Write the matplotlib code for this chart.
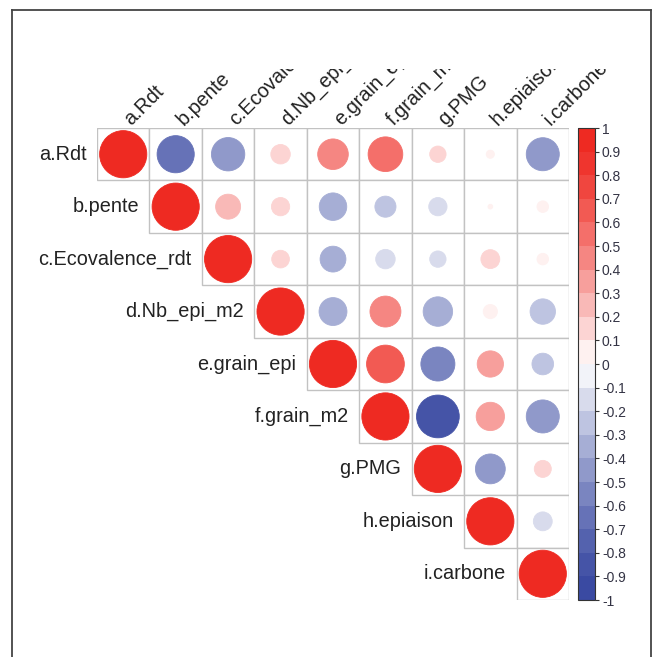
import numpy as np
import matplotlib
matplotlib.use("Agg")
import matplotlib.pyplot as plt
from matplotlib.colors import ListedColormap, BoundaryNorm, to_rgb
from matplotlib.cm import ScalarMappable
from matplotlib.patches import Circle, Rectangle
from matplotlib.lines import Line2D
from matplotlib.transforms import Bbox, TransformedBbox

plt.rcParams['font.family'] = ['Liberation Sans', 'DejaVu Sans']

labels = ["a.Rdt", "b.pente", "c.Ecovalence_rdt", "d.Nb_epi_m2", "e.grain_epi",
          "f.grain_m2", "g.PMG", "h.epiaison", "i.carbone"]

# correlations of the upper triangle, each row starts at the diagonal
row_a = [1, -0.62, -0.50, 0.17, 0.42, 0.54, 0.12, 0.03, -0.49]
row_b = [1, 0.28, 0.15, -0.34, -0.20, -0.15, 0.01, 0.06]
row_c = [1, 0.14, -0.30, -0.17, -0.12, 0.16, 0.06]
row_d = [1, -0.35, 0.43, -0.39, 0.09, -0.29]
row_e = [1, 0.64, -0.52, 0.31, -0.21]
row_f = [1, -0.82, 0.36, -0.49]
row_g = [1, -0.40, 0.13]
row_h = [1, -0.16]
row_i = [1]
rows = [row_a, row_b, row_c, row_d, row_e, row_f, row_g, row_h, row_i]

cbar_ticks = [1, 0.9, 0.8, 0.7, 0.6, 0.5, 0.4, 0.3, 0.2, 0.1, 0,
              -0.1, -0.2, -0.3, -0.4, -0.5, -0.6, -0.7, -0.8, -0.9, -1]

W, H = 655, 657
fig = plt.figure(figsize=(W / 100, H / 100), dpi=100)

# 20 colour bins, blue - white - red, a bit darker away from zero
blue = np.array(to_rgb("#3A4AA2"))
red = np.array(to_rgb("#EE2A22"))
white = np.ones(3)
cols = []
for k in range(20):
    t = k / 19 * 2 - 1          # -1 .. 1
    s = (1 - abs(t)) ** 1.3     # share of white
    end = red if t > 0 else blue
    cols.append(tuple(end + (white - end) * s))
cmap = ListedColormap(cols)
bounds = np.linspace(-1, 1, 21)
norm = BoundaryNorm(bounds, 20)

n = len(labels)
ax = fig.add_axes([97 / W, 1 - 600 / H, 472 / W, 472 / H])
ax.set_xlim(0.5, n + 0.5)
ax.set_ylim(n + 0.5, 0.5)
ax.axis('off')

for i, vals in enumerate(rows):
    for k, r in enumerate(vals):
        j = i + k
        ax.add_patch(Rectangle((j + 0.5, i + 0.5), 1, 1, fc='white',
                               ec='#C2C2C2', lw=1.0, zorder=1))
        c = cmap(norm(r))
        ax.add_patch(Circle((j + 1, i + 1), 0.45 * np.sqrt(abs(r)),
                            fc=c, ec=c, lw=0.6, zorder=2))

# row labels next to the diagonal
for i, lab in enumerate(labels):
    ax.text(i + 0.5 - 0.2, i + 1, lab, ha='right', va='center',
            fontsize=14.3, color='#222222', clip_on=False)

# column labels, rotated and clipped at the top like the original
clipbox = TransformedBbox(Bbox([[0, 0], [1, 1 - 69 / H]]), fig.transFigure)
for j, lab in enumerate(labels):
    t = fig.text(j + 1.15, 0.47, lab, transform=ax.transData, rotation=45,
                 rotation_mode='anchor', ha='left', va='baseline',
                 fontsize=14.3, color='#222222')
    t.set_clip_box(clipbox)
    t.set_clip_on(True)

# colour legend
cax = fig.add_axes([578 / W, 1 - 600 / H, 17 / W, 472 / H])
cb = fig.colorbar(ScalarMappable(norm=norm, cmap=cmap), cax=cax,
                  boundaries=bounds, ticks=cbar_ticks)
cb.set_ticklabels([f"{v:g}" for v in cbar_ticks])
cb.ax.tick_params(length=3, width=0.8, pad=2, labelsize=10,
                  color='#333333', labelcolor='#333344')
cb.outline.set_edgecolor('#333333')
cb.outline.set_linewidth(0.8)

# outer frame (bottom edge cut off)
for xs, ys in [([12, 12], [H + 5, 10]), ([12, 651], [10, 10]), ([651, 651], [10, H + 5])]:
    fig.add_artist(Line2D([x / W for x in xs], [1 - y / H for y in ys],
                          transform=fig.transFigure, color='#444444', lw=1.3))

fig.savefig("out.png", dpi=100)
